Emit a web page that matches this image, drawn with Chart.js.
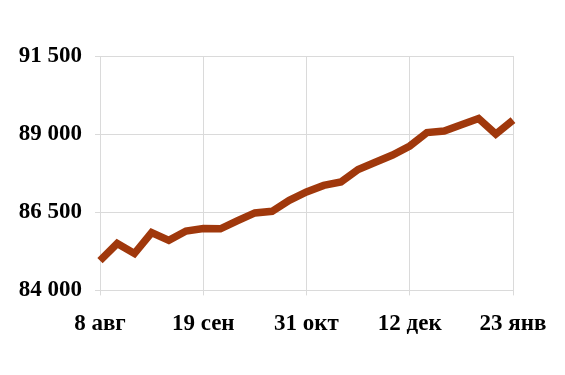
<!DOCTYPE html>
<html>
<head>
<meta charset="utf-8">
<script src="https://cdn.jsdelivr.net/npm/chart.js@4/dist/chart.umd.min.js"></script>
<style>
  html, body { margin: 0; padding: 0; background: #fff; }
  #wrap { width: 565px; height: 375px; }
</style>
</head>
<body>
<div id="wrap"><canvas id="myChart"></canvas></div>
<script>
// weekly dates, every 6th one is labelled on the axis
const weeks = [
  '8 авг', '15 авг', '22 авг', '29 авг', '5 сен', '12 сен',
  '19 сен', '26 сен', '3 окт', '10 окт', '17 окт', '24 окт',
  '31 окт', '7 ноя', '14 ноя', '21 ноя', '28 ноя', '5 дек',
  '12 дек', '19 дек', '26 дек', '2 янв', '9 янв', '16 янв',
  '23 янв'
];
const values = [
  84950, 85500, 85180, 85850, 85600, 85900,
  85980, 85970, 86230, 86480, 86530, 86880,
  87150, 87360, 87470, 87870, 88100, 88330,
  88620, 89050, 89100, 89300, 89500, 89000,
  89450
];
const yTicks = [84000, 86500, 89000, 91500];

const font = { family: "'Times New Roman', 'Liberation Serif', serif", size: 23, weight: 'bold' };
const gridColor = '#dadada';

new Chart(document.getElementById('myChart'), {
  type: 'line',
  data: {
    labels: weeks,
    datasets: [{
      data: values,
      borderColor: '#a0380c',
      borderWidth: 7.5,
      pointRadius: 0,
      tension: 0,
      fill: false
    }]
  },
  options: {
    responsive: true,
    maintainAspectRatio: false,
    animation: false,
    layout: { padding: { top: 56, right: 52, bottom: 22, left: 0 } },
    plugins: { legend: { display: false }, tooltip: { enabled: false } },
    scales: {
      x: {
        offset: false,
        grid: {
          color: ctx => (ctx.index % 6 === 0 ? gridColor : 'transparent'),
          tickLength: 5
        },
        border: { color: gridColor },
        ticks: {
          autoSkip: false,
          maxRotation: 0,
          color: '#000',
          font: font,
          padding: 15,
          callback: (v, i) => (i % 6 === 0 ? weeks[i] : '')
        }
      },
      y: {
        min: yTicks[0],
        max: yTicks[yTicks.length - 1],
        afterBuildTicks: scale => { scale.ticks = yTicks.map(v => ({ value: v })); },
        afterFit: scale => { scale.width = 100; },
        grid: { color: gridColor, tickLength: 5 },
        border: { color: gridColor },
        ticks: {
          color: '#000',
          font: font,
          padding: 13,
          callback: v => v.toLocaleString('ru-RU').replace(/\s/g, ' ')
        }
      }
    }
  }
});
</script>
</body>
</html>
